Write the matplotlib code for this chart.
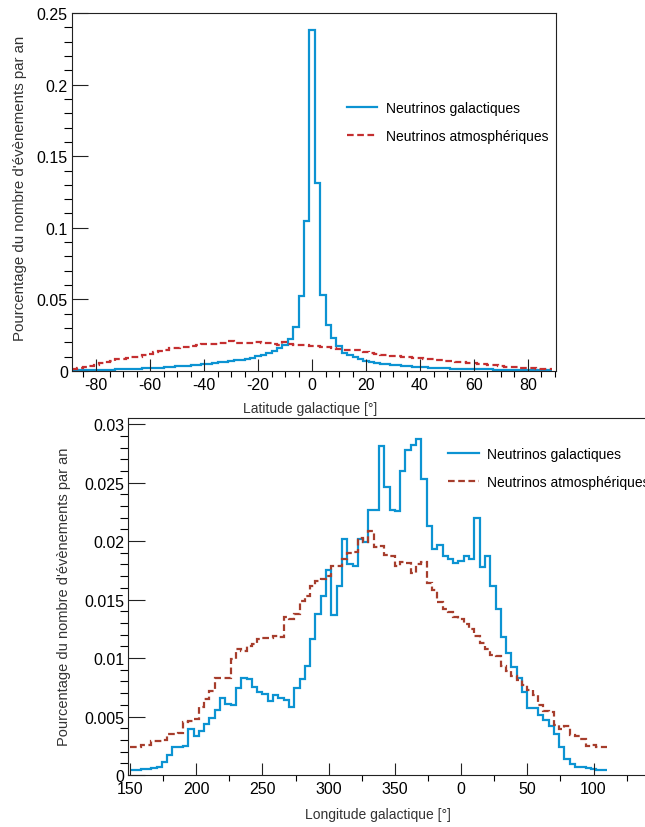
"""Latitude / longitude distributions of galactic vs atmospheric neutrinos."""
import matplotlib
matplotlib.use('Agg')
import matplotlib.pyplot as plt, numpy as np
from matplotlib.ticker import MultipleLocator, FuncFormatter

plt.rcParams['font.family'] = ['Liberation Sans', 'DejaVu Sans']
plt.rcParams['axes.unicode_minus'] = False

# --- latitude histogram (2 deg bins, centres -88..88) ---
lat_edges = np.arange(-89, 90, 2)
lat_gal = [0.0005, 0.0005, 0.0006, 0.0006, 0.0007,
           0.0008, 0.0009, 0.0010, 0.0011, 0.0012,
           0.0013, 0.0014, 0.0016, 0.0018, 0.0020,
           0.0022, 0.0024, 0.0026, 0.0029, 0.0032,
           0.0035, 0.0038, 0.0041, 0.0044, 0.0048,
           0.0052, 0.0056, 0.0060, 0.0065, 0.0070,
           0.0075, 0.0080, 0.0086, 0.0093, 0.0102,
           0.0112, 0.0124, 0.0142, 0.0160, 0.0180,
           0.0225, 0.031, 0.0526, 0.105,
           0.238,
           0.131, 0.053, 0.032, 0.023, 0.0174,
           0.0128, 0.0110, 0.0095, 0.0084, 0.0072,
           0.0063, 0.0056, 0.0050, 0.0046, 0.0042,
           0.0039, 0.0036, 0.0033, 0.0030, 0.0028,
           0.0026, 0.0024, 0.0022, 0.0020, 0.0019,
           0.0017, 0.0016, 0.0015, 0.0014, 0.0013,
           0.0012, 0.0012, 0.0011, 0.0010, 0.0010,
           0.0009, 0.0008, 0.0008, 0.0007, 0.0007,
           0.0006, 0.0006, 0.0005, 0.0005]
lat_atm = [0.0014, 0.0020, 0.0030, 0.0035, 0.0044,
           0.0056, 0.0062, 0.0070, 0.0081, 0.0085,
           0.0090, 0.0095, 0.0100, 0.0110, 0.0120,
           0.0130, 0.0138, 0.0145, 0.0158, 0.0160,
           0.0165, 0.0170, 0.0175, 0.0182, 0.0188,
           0.0188, 0.0190, 0.0195, 0.0198, 0.0207,
           0.0195, 0.0193, 0.0195, 0.0194, 0.0205,
           0.0198, 0.0195, 0.0190, 0.0184, 0.0200,
           0.0190, 0.0184, 0.0184, 0.0180,
           0.0178,
           0.0175, 0.0168, 0.0165, 0.0160, 0.0153,
           0.0150, 0.0148, 0.0147, 0.0145, 0.0135,
           0.0125, 0.0120, 0.0114, 0.0110, 0.0107,
           0.0103, 0.0100, 0.0098, 0.0093, 0.0091,
           0.0087, 0.0084, 0.0080, 0.0077, 0.0073,
           0.0069, 0.0065, 0.0060, 0.0058, 0.0055,
           0.0051, 0.0048, 0.0044, 0.0040, 0.0035,
           0.0030, 0.0028, 0.0026, 0.0024, 0.0021,
           0.0019, 0.0017, 0.0014, 0.0012]

# --- longitude histogram (4 deg bins, shifted axis 150..510) ---
lon_edges = np.arange(150, 511, 4)
lon_gal = [0.0004, 0.0004, 0.0005, 0.0005, 0.0006, 0.0007, 0.0011, 0.0017, 0.0024, 0.0024,
           0.0025, 0.0039, 0.0033, 0.0038, 0.0044, 0.0049, 0.0056, 0.0066, 0.0061, 0.0060,
           0.0074, 0.0083, 0.0082, 0.0075, 0.0071, 0.0069, 0.0063, 0.0068, 0.0066, 0.0064,
           0.0058, 0.0074, 0.0082, 0.0093, 0.0116, 0.0138, 0.0153, 0.0175, 0.0137, 0.0162,
           0.0202, 0.0180, 0.0179, 0.0202, 0.0199, 0.0227, 0.0227, 0.0281, 0.0246, 0.0227,
           0.0226, 0.0260, 0.0278, 0.0282, 0.0287, 0.0253, 0.0213, 0.0193, 0.0197, 0.0187,
           0.0185, 0.0181, 0.0183, 0.0187, 0.0185, 0.0220, 0.0178, 0.0187, 0.0162, 0.0142,
           0.0118, 0.0104, 0.0092, 0.0083, 0.0071, 0.0057, 0.0057, 0.0051, 0.0047, 0.0042,
           0.0035, 0.0024, 0.0014, 0.0009, 0.0007, 0.0007, 0.0006, 0.0005, 0.0004, 0.0004]
lon_atm = [0.0024, 0.0024, 0.0026, 0.0026, 0.0029, 0.0029, 0.0030, 0.0035, 0.0035, 0.0036,
           0.0045, 0.0046, 0.0048, 0.0058, 0.0065, 0.0072, 0.0083, 0.0083, 0.0083, 0.0099,
           0.0108, 0.0106, 0.0110, 0.0112, 0.0116, 0.0117, 0.0117, 0.0119, 0.0118, 0.0135,
           0.0133, 0.0138, 0.0149, 0.0153, 0.0162, 0.0166, 0.0168, 0.0170, 0.0179, 0.0179,
           0.0185, 0.0190, 0.0191, 0.0203, 0.0199, 0.0209, 0.0195, 0.0196, 0.0188, 0.0187,
           0.0179, 0.0182, 0.0181, 0.0173, 0.0180, 0.0182, 0.0164, 0.0158, 0.0148, 0.0142,
           0.0139, 0.0135, 0.0133, 0.0129, 0.0125, 0.0119, 0.0113, 0.0108, 0.0103, 0.0102,
           0.0093, 0.0089, 0.0085, 0.0081, 0.0077, 0.0073, 0.0068, 0.0060, 0.0055, 0.0054,
           0.0043, 0.0039, 0.0042, 0.0034, 0.0033, 0.0031, 0.0025, 0.0026, 0.0024, 0.0024]
lon_ticks = [150, 200, 250, 300, 350, 400, 450, 500]
lon_labels = ['150', '200', '250', '300', '350', '0', '50', '100']

BLUE = '#0c93d2'
ylab = "Pourcentage du nombre d'évènements par an"
lab_gal, lab_atm = 'Neutrinos galactiques', 'Neutrinos atmosphériques'
dash = (0, (3, 1.6))
fmt = FuncFormatter(lambda v, p: f'{v:g}')

fig = plt.figure(figsize=(6.45, 8.28), dpi=100)
ax1 = fig.add_axes([72/645, 1-372/828, 484/645, 358/828])
ax2 = fig.add_axes([128.3/645, 52/828, 544.7/645, 356.7/828])

def style(ax, ylen_major=11.5, ylen_minor=5.8):
    for s in ax.spines.values():
        s.set_linewidth(0.8); s.set_color('#222222')
    ax.tick_params(direction='in', labelsize=11.5, width=0.8, color='#222222')
    ax.tick_params(axis='y', which='major', length=ylen_major, pad=3)
    ax.tick_params(axis='y', which='minor', length=ylen_minor, width=0.8)
    ax.tick_params(axis='x', which='major', length=8.6, pad=4)
    ax.tick_params(axis='x', which='minor', length=4.3, width=0.8)

# top panel: latitude
ax1.stairs(lat_gal, lat_edges, baseline=None, color=BLUE, lw=1.6, label=lab_gal)
ax1.stairs(lat_atm, lat_edges, baseline=None, color='#c42f30', lw=1.6, ls=dash, label=lab_atm)
ax1.set_xlim(-89, 90.4); ax1.set_ylim(0, 0.25)
ax1.xaxis.set_major_locator(MultipleLocator(20)); ax1.xaxis.set_minor_locator(MultipleLocator(5))
ax1.yaxis.set_major_locator(MultipleLocator(0.05)); ax1.yaxis.set_minor_locator(MultipleLocator(0.01))
ax1.yaxis.set_major_formatter(fmt)
style(ax1)
ax1.set_xlabel('Latitude galactique [°]', fontsize=10, color='#333333')
ax1.xaxis.set_label_coords(0.492, -0.084)
ax1.set_ylabel(ylab, fontsize=10.8, color='#333333')
ax1.yaxis.set_label_coords(-0.093, 0.514)
ax1.legend(loc='upper left', bbox_to_anchor=(0.568, 0.755), frameon=False, fontsize=10,
           handlelength=2.2, handletextpad=0.6, labelspacing=1.0, borderpad=0, borderaxespad=0)

# bottom panel: longitude
ax2.stairs(lon_gal, lon_edges, baseline=None, color=BLUE, lw=1.6, label=lab_gal)
ax2.stairs(lon_atm, lon_edges, baseline=None, color='#a63d2c', lw=1.6, ls=dash, label=lab_atm)
ax2.set_xlim(148.7, 560); ax2.set_ylim(0, 0.0305)
ax2.set_xticks(lon_ticks); ax2.set_xticklabels(lon_labels)
ax2.xaxis.set_minor_locator(MultipleLocator(25))
ax2.yaxis.set_major_locator(MultipleLocator(0.005)); ax2.yaxis.set_minor_locator(MultipleLocator(0.001))
ax2.yaxis.set_major_formatter(fmt)
style(ax2, 12, 6)
ax2.set_xlabel('Longitude galactique [°]', fontsize=10, color='#333333')
ax2.xaxis.set_label_coords(0.458, -0.0897)
ax2.set_ylabel(ylab, fontsize=10.5, color='#333333')
ax2.yaxis.set_label_coords(-0.105, 0.502)
ax2.legend(loc='upper left', bbox_to_anchor=(0.587, 0.92), frameon=False, fontsize=10,
           handlelength=2.2, handletextpad=0.6, labelspacing=1.0, borderpad=0, borderaxespad=0)

fig.savefig('out.png', dpi=100)
print('ok')
